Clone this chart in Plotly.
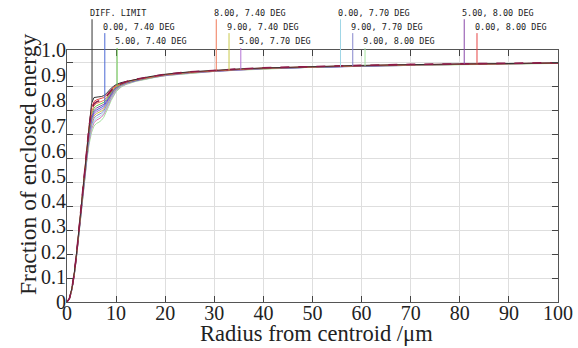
import numpy as np
import plotly.graph_objects as go

# ---------------- data ----------------
radius_um = [0, 0.5, 1, 1.5, 2, 2.5, 3, 3.5, 4, 4.5, 5, 5.5, 6, 6.5, 7, 7.5, 8, 8.5, 9, 9.5,
             10, 11, 12, 14, 16, 18, 20, 25, 30, 35, 40, 50, 60, 70, 80, 90, 100]

diff_limit = [0, 0.016, 0.058, 0.125, 0.215, 0.318, 0.43, 0.54, 0.645, 0.745, 0.828, 0.852, 0.855, 0.855, 0.856, 0.86, 0.868, 0.88, 0.891, 0.899,
              0.906, 0.914, 0.919, 0.928, 0.936, 0.943, 0.949, 0.959, 0.966, 0.971, 0.975, 0.981, 0.986, 0.989, 0.992, 0.994, 0.996]

f0_800 = [0, 0.015, 0.056, 0.122, 0.212, 0.314, 0.425, 0.535, 0.64, 0.735, 0.81, 0.835, 0.842, 0.846, 0.848, 0.852, 0.861, 0.874, 0.886, 0.895,
          0.902, 0.911, 0.918, 0.927, 0.935, 0.942, 0.948, 0.958, 0.965, 0.970, 0.975, 0.981, 0.985, 0.989, 0.992, 0.994, 0.996]
f8_770 = [0, 0.015, 0.056, 0.122, 0.212, 0.314, 0.424, 0.533, 0.637, 0.73, 0.8, 0.826, 0.834, 0.838, 0.841, 0.846, 0.856, 0.87, 0.883, 0.893,
          0.901, 0.911, 0.918, 0.928, 0.936, 0.943, 0.949, 0.959, 0.966, 0.971, 0.976, 0.982, 0.986, 0.990, 0.993, 0.995, 0.997]
f8_740 = [0, 0.015, 0.055, 0.121, 0.21, 0.312, 0.422, 0.53, 0.633, 0.725, 0.792, 0.818, 0.827, 0.832, 0.835, 0.84, 0.851, 0.866, 0.88, 0.891,
          0.899, 0.909, 0.916, 0.926, 0.934, 0.941, 0.947, 0.957, 0.964, 0.969, 0.974, 0.980, 0.985, 0.988, 0.991, 0.993, 0.995]
f5_740 = [0, 0.015, 0.055, 0.12, 0.209, 0.31, 0.42, 0.527, 0.628, 0.717, 0.782, 0.808, 0.817, 0.822, 0.826, 0.832, 0.844, 0.86, 0.875, 0.887,
          0.896, 0.907, 0.915, 0.925, 0.933, 0.940, 0.947, 0.957, 0.964, 0.969, 0.974, 0.980, 0.984, 0.988, 0.991, 0.993, 0.995]
f5_800 = [0, 0.015, 0.054, 0.119, 0.208, 0.309, 0.418, 0.524, 0.624, 0.71, 0.772, 0.798, 0.808, 0.813, 0.817, 0.824, 0.837, 0.854, 0.871, 0.884,
          0.894, 0.906, 0.914, 0.924, 0.933, 0.940, 0.946, 0.956, 0.963, 0.969, 0.973, 0.979, 0.984, 0.988, 0.991, 0.993, 0.995]
f0_740 = [0, 0.014, 0.054, 0.118, 0.207, 0.307, 0.416, 0.521, 0.62, 0.703, 0.763, 0.79, 0.8, 0.805, 0.809, 0.817, 0.831, 0.849, 0.867, 0.881,
          0.892, 0.905, 0.913, 0.924, 0.932, 0.939, 0.946, 0.956, 0.963, 0.968, 0.973, 0.979, 0.984, 0.988, 0.991, 0.993, 0.995]
f5_770 = [0, 0.014, 0.053, 0.117, 0.205, 0.305, 0.413, 0.518, 0.615, 0.696, 0.755, 0.782, 0.792, 0.797, 0.802, 0.81, 0.825, 0.844, 0.863, 0.878,
          0.89, 0.903, 0.912, 0.923, 0.932, 0.939, 0.945, 0.955, 0.962, 0.968, 0.973, 0.979, 0.984, 0.987, 0.990, 0.993, 0.995]
f9_740 = [0, 0.014, 0.053, 0.117, 0.204, 0.304, 0.411, 0.515, 0.611, 0.69, 0.748, 0.775, 0.785, 0.79, 0.795, 0.804, 0.82, 0.84, 0.86, 0.876,
          0.888, 0.902, 0.911, 0.922, 0.931, 0.938, 0.945, 0.955, 0.962, 0.968, 0.972, 0.979, 0.983, 0.987, 0.990, 0.993, 0.995]
f9_770 = [0, 0.014, 0.052, 0.116, 0.203, 0.302, 0.408, 0.511, 0.606, 0.683, 0.739, 0.766, 0.776, 0.781, 0.787, 0.797, 0.814, 0.835, 0.856, 0.873,
          0.886, 0.901, 0.910, 0.922, 0.931, 0.938, 0.944, 0.955, 0.962, 0.967, 0.972, 0.978, 0.983, 0.987, 0.990, 0.993, 0.995]
f0_770 = [0, 0.014, 0.052, 0.115, 0.201, 0.3, 0.405, 0.507, 0.6, 0.675, 0.729, 0.756, 0.766, 0.771, 0.778, 0.789, 0.807, 0.829, 0.851, 0.869,
          0.883, 0.899, 0.909, 0.921, 0.930, 0.937, 0.944, 0.954, 0.961, 0.967, 0.972, 0.978, 0.983, 0.987, 0.990, 0.993, 0.995]
f8_800 = [0, 0.014, 0.051, 0.114, 0.2, 0.298, 0.402, 0.503, 0.595, 0.668, 0.72, 0.747, 0.758, 0.763, 0.77, 0.782, 0.801, 0.824, 0.847, 0.866,
          0.881, 0.898, 0.908, 0.921, 0.930, 0.937, 0.943, 0.954, 0.961, 0.967, 0.972, 0.978, 0.983, 0.987, 0.990, 0.993, 0.995]
f9_800 = [0, 0.013, 0.05, 0.112, 0.197, 0.294, 0.397, 0.497, 0.587, 0.657, 0.706, 0.733, 0.744, 0.749, 0.757, 0.77, 0.79, 0.815, 0.84, 0.86,
          0.876, 0.895, 0.906, 0.919, 0.929, 0.936, 0.943, 0.953, 0.961, 0.966, 0.971, 0.978, 0.983, 0.986, 0.990, 0.992, 0.994]

# series: (label, values, colour, dash, label radius or None, label row)
series = [
    ("9.00, 8.00 DEG", f9_800, "#a6e3a0", "solid", 60.7, 3),
    ("8.00, 8.00 DEG", f8_800, "#d070b0", "solid", None, None),
    ("0.00, 7.70 DEG", f0_770, "#9fd6e6", "solid", 55.7, 1),
    ("9.00, 7.70 DEG", f9_770, "#8686cc", "solid", 58.2, 2),
    ("9.00, 7.40 DEG", f9_740, "#c9c94c", "solid", 33.0, 2),
    ("5.00, 7.70 DEG", f5_770, "#b474d4", "solid", 35.4, 3),
    ("0.00, 7.40 DEG", f0_740, "#4a68d4", "solid", 7.7, 2),
    ("5.00, 8.00 DEG", f5_800, "#8a48aa", "solid", 80.9, 1),
    ("5.00, 7.40 DEG", f5_740, "#66c84a", "solid", 10.2, 3),
    ("8.00, 7.40 DEG", f8_740, "#f07a58", "solid", 30.4, 1),
    ("0.00, 8.00 DEG", f0_800, "#e64444", "solid", 83.5, 2),
    ("DIFF. LIMIT", diff_limit, "#333333", "solid", 5.1, 1),
    ("8.00, 7.70 DEG", f8_770, "#8c1a48", "dash", None, None),
]

x_ticks = [0, 10, 20, 30, 40, 50, 60, 70, 80, 90, 100]
y_ticks = [0, 0.1, 0.2, 0.3, 0.4, 0.5, 0.6, 0.7, 0.8, 0.9, 1.0]
y_tick_text = ["0", "0.1", "0.2", "0.3", "0.4", "0.5", "0.6", "0.7", "0.8", "0.9", "1.0"]
Y_MAX = 1.05

# label rows in paper coordinates (text centre, leader top)
row_text = {1: 1.148, 2: 1.093, 3: 1.034}
row_lead = {1: 1.122, 2: 1.067, 3: 1.008}

serif = "Liberation Serif"
mono = "DejaVu Sans Mono"
ink = "#222222"

fig = go.Figure()
for name, vals, col, dash, lr, row in series:
    fig.add_trace(go.Scatter(x=radius_um, y=vals, mode="lines", name=name,
                             line=dict(color=col, width=1.6 if dash == "dash" else 1, dash=dash),
                             showlegend=False, hoverinfo="skip"))

# invisible trace to carry the label axis
fig.add_trace(go.Scatter(x=[0], y=[0], yaxis="y2", mode="markers", marker=dict(opacity=0),
                         showlegend=False, hoverinfo="skip"))

shapes = []
annotations = []
for name, vals, col, dash, lr, row in series:
    if lr is None:
        continue
    yv = float(np.interp(lr, radius_um, vals))
    shapes.append(dict(type="line", xref="x", yref="paper", x0=lr, x1=lr,
                       y0=yv / Y_MAX, y1=row_lead[row], line=dict(color=col, width=1)))
    annotations.append(dict(xref="x", yref="paper", x=lr, y=row_text[row], text=name,
                            showarrow=False, xanchor="left", yanchor="middle", xshift=-4,
                            font=dict(family=mono, size=8.5, color=ink)))

# axis titles
annotations.append(dict(xref="paper", yref="paper", x=0.5, y=-0.126, text="Radius from centroid /μm",
                        showarrow=False, xanchor="center", yanchor="middle", xshift=4,
                        font=dict(family=serif, size=22.5, color=ink)))
annotations.append(dict(xref="paper", yref="paper", x=0, y=0.5, text="Fraction of enclosed energy",
                        showarrow=False, xanchor="center", yanchor="middle", xshift=-39, yshift=11,
                        textangle=-90, font=dict(family=serif, size=23.5, color=ink)))

axis_line = "#555555"
fig.update_layout(
    width=578, height=348,
    margin=dict(l=67, r=20, t=50, b=46, autoexpand=False),
    paper_bgcolor="white", plot_bgcolor="white",
    font=dict(family=serif, color=ink),
    shapes=shapes, annotations=annotations,
    xaxis=dict(range=[0, 100], tickvals=x_ticks, ticks="inside", ticklen=6, tickcolor="#444444",
               showline=True, linecolor=axis_line, linewidth=1, mirror="ticks",
               showgrid=True, gridcolor="#dedede", gridwidth=1, zeroline=False, automargin=False,
               tickfont=dict(family=serif, size=20, color=ink), ticklabelstandoff=-7),
    yaxis=dict(range=[0, Y_MAX], tickvals=y_ticks, showticklabels=False, ticks="inside", ticklen=6,
               tickcolor="#444444", showline=True, linecolor=axis_line, linewidth=1, mirror="ticks",
               showgrid=True, gridcolor="#dedede", gridwidth=1, zeroline=False, automargin=False),
    yaxis2=dict(overlaying="y", side="left", range=[0, 1.0], tickvals=y_ticks, ticktext=y_tick_text,
                ticks="", showgrid=False, zeroline=False, showline=False, automargin=False,
                tickfont=dict(family=serif, size=20, color=ink)),
)

fig.write_html("out.html", config={"displayModeBar": False},
               post_script="document.body.style.margin='0px';document.body.style.overflow='hidden';")
